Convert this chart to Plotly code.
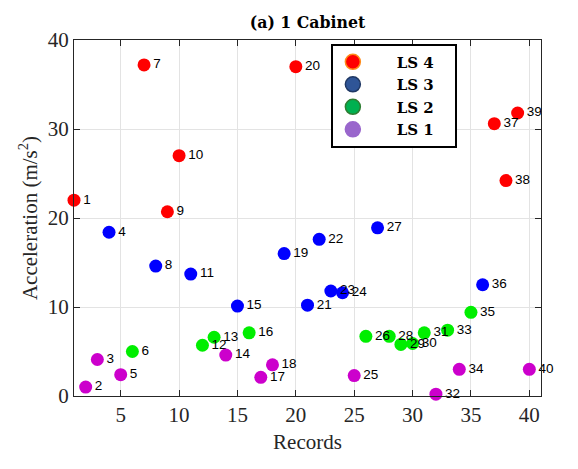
import plotly.graph_objects as go

# LS 4
ls4_x = [1, 7, 9, 10, 20, 37, 38, 39]
ls4_y = [22.0, 37.2, 20.7, 27.0, 37.0, 30.6, 24.2, 31.8]
# LS 3
ls3_x = [4, 8, 11, 15, 19, 21, 22, 23, 24, 27, 36]
ls3_y = [18.4, 14.6, 13.7, 10.1, 16.0, 10.2, 17.6, 11.8, 11.6, 18.9, 12.5]
# LS 2
ls2_x = [6, 12, 13, 16, 26, 28, 29, 30, 31, 33, 35]
ls2_y = [5.0, 5.7, 6.6, 7.1, 6.7, 6.7, 5.8, 5.9, 7.1, 7.4, 9.4]
# LS 1
ls1_x = [2, 3, 5, 14, 17, 18, 25, 32, 34, 40]
ls1_y = [1.0, 4.1, 2.4, 4.6, 2.1, 3.5, 2.3, 0.2, 3.0, 3.0]

series = [
    ("LS 4", ls4_x, ls4_y, "#FF0000", "#FF0000", "#FF8C1A"),
    ("LS 3", ls3_x, ls3_y, "#0000FF", "#2F5597", "#1F3864"),
    ("LS 2", ls2_x, ls2_y, "#00EE00", "#00B050", "#2E7D32"),
    ("LS 1", ls1_x, ls1_y, "#CC00CC", "#9966CC", "#9966CC"),
]

fig = go.Figure()
for name, xs, ys, col, lcol, lline in series:
    fig.add_trace(go.Scatter(
        x=xs, y=ys, mode="markers+text", text=[str(v) for v in xs],
        textposition="middle right",
        textfont=dict(family="Liberation Sans", size=13.5, color="black"),
        marker=dict(color=col, size=13, line=dict(width=0)),
        showlegend=False, cliponaxis=False,
    ))

pre = "\u00a0" * 5
post = "\u00a0\u2800"
for name, xs, ys, col, lcol, lline in series:
    fig.add_trace(go.Scatter(
        x=[None], y=[None], mode="markers", name=pre + "<b>" + name + "</b>" + post,
        marker=dict(color=lcol, size=15, line=dict(width=1.5, color=lline)),
        showlegend=True,
    ))

axis_common = dict(
    showline=True, linecolor="#262626", linewidth=1.2, mirror="ticks",
    ticks="inside", ticklen=6, tickcolor="#262626",
    showgrid=True, gridcolor="#E3E3E3", gridwidth=1, zeroline=False,
    tickfont=dict(family="Liberation Serif", size=21, color="#262626"),
)

fig.update_layout(
    width=578, height=469,
    margin=dict(l=74, r=37, t=40, b=73),
    plot_bgcolor="white", paper_bgcolor="white",
    title=dict(text="<b>(a) 1 Cabinet</b>", xref="paper", x=0.5, xanchor="center", y=0.953, yanchor="middle",
               font=dict(family="DejaVu Serif Condensed", size=17.5, color="black")),
    xaxis=dict(range=[1, 41], tickvals=[5, 10, 15, 20, 25, 30, 35, 40],
               title=dict(text="Records", font=dict(family="Liberation Serif", size=21, color="#262626"), standoff=8),
               **axis_common),
    yaxis=dict(range=[0, 40], tickvals=[0, 10, 20, 30, 40],
               title=dict(text="Acceleration (m/s<sup>2</sup>)", font=dict(family="Liberation Serif", size=21, color="#262626"), standoff=4),
               **axis_common),
    legend=dict(x=0.55, y=0.99, xanchor="left", yanchor="top",
                bgcolor="white", bordercolor="black", borderwidth=2,
                font=dict(family="DejaVu Serif", size=15, color="black"),
                tracegroupgap=0, itemsizing="trace"),
)

fig.write_html("out.html")
